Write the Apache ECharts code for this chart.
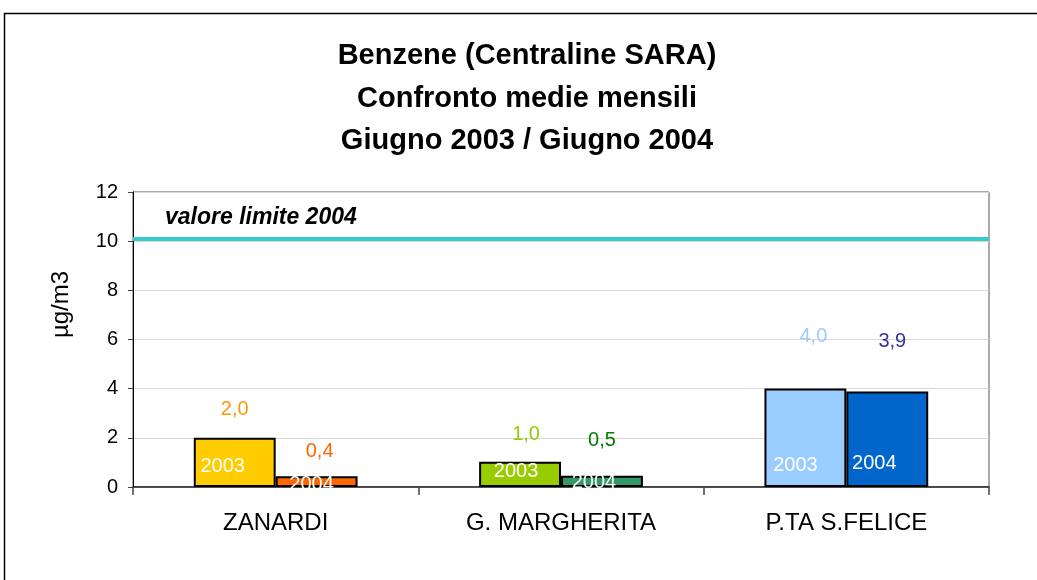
<!DOCTYPE html>
<html><head><meta charset="utf-8">
<script src="https://cdn.jsdelivr.net/npm/echarts@6/dist/echarts.min.js"></script>
<style>html,body{margin:0;padding:0;background:#fff}#c{width:1037px;height:580px}</style>
</head><body><div id="c"></div>
<script>
// ---- data ----
const categories = ['ZANARDI', 'G. MARGHERITA', 'P.TA S.FELICE'];
const years = ['2003', '2004'];
const values2003 = [2.0, 1.03, 4.01];
const values2004 = [0.44, 0.46, 3.88];
const limitValue = 10.1;
const limitLabel = 'valore limite 2004';
const yMin = 0, yMax = 12, yStep = 2;
const titleLines = ['Benzene (Centraline SARA)', 'Confronto medie mensili', 'Giugno 2003 / Giugno 2004'];
const yAxisName = 'µg/m3';

// ---- styles ----
const barColors = [['#FFCC00', '#99CC00', '#99CCFF'], ['#FF6600', '#339966', '#0066CC']];
const valueColors = [['#FF9900', '#99CC00', '#99CCFF'], ['#FF6600', '#008000', '#333399']];
const valueOffsets = [[[0, -28], [6, -27], [8, -52]], [[3, -25], [0, -35], [5, -50]]];
const yearOffsets = [[[-12, -21], [-4, -16], [-10, -22]], [[-5, -3], [-8, -5], [-13, -24]]];
const FONT = "'Liberation Sans', Arial, Helvetica, sans-serif";
const fmt = v => v.toFixed(1).replace('.', ',');

function mainSeries(k, values, withLimit) {
  const s = {
    type: 'bar', name: years[k], xAxisIndex: 0, yAxisIndex: 0,
    barGap: '0%', barCategoryGap: '42.6%', silent: true,
    data: values.map((v, i) => ({
      value: v,
      itemStyle: { color: barColors[k][i], borderColor: '#000', borderWidth: 2 },
      label: {
        show: true, position: ['50%', 0], align: 'center', verticalAlign: 'middle',
        offset: valueOffsets[k][i], color: valueColors[k][i], fontSize: 20, fontFamily: FONT,
        formatter: p => fmt(p.value)
      }
    }))
  };
  if (withLimit) {
    s.markLine = {
      silent: true, symbol: 'none', animation: false,
      data: [{ yAxis: limitValue }],
      lineStyle: { color: '#33CCCC', width: 4, type: 'solid' },
      label: {
        show: true, position: 'insideStartTop', distance: [32, 10],
        formatter: limitLabel, color: '#000', fontSize: 23, fontWeight: 'bold',
        fontStyle: 'italic', fontFamily: FONT
      }
    };
  }
  return s;
}
function yearSeries(k, values) {
  return {
    type: 'bar', name: years[k] + 'y', xAxisIndex: 1, yAxisIndex: 0,
    barGap: '0%', barCategoryGap: '42.6%', silent: true,
    data: values.map((v, i) => ({
      value: v,
      itemStyle: { color: 'rgba(0,0,0,0)' },
      label: {
        show: true, position: ['50%', '100%'], align: 'center', verticalAlign: 'middle',
        offset: yearOffsets[k][i], color: '#fff', fontSize: 20, fontFamily: FONT,
        formatter: years[k]
      }
    }))
  };
}

const chart = echarts.init(document.getElementById('c'));
chart.setOption({
  animation: false,
  backgroundColor: '#fff',
  textStyle: { fontFamily: FONT },
  title: {
    text: titleLines.join('\n'), left: 527, top: 35, padding: 0, textAlign: 'center',
    textStyle: { fontSize: 29, fontWeight: 'bold', color: '#000', lineHeight: 42.5, fontFamily: FONT }
  },
  graphic: [{
    type: 'rect', silent: true, z: -10,
    shape: { x: 4.5, y: 13.5, width: 1100, height: 700 },
    style: { fill: 'none', stroke: '#000', lineWidth: 1.5 }
  }],
  grid: { left: 133, right: 48, top: 192, bottom: 93, show: true, borderColor: '#555', borderWidth: 1, backgroundColor: 'rgba(0,0,0,0)' },
  xAxis: [{
    type: 'category', data: categories,
    axisLine: { lineStyle: { color: '#222', width: 1.5 } },
    axisTick: { show: true, length: 8, lineStyle: { color: '#444', width: 1.5 } },
    axisLabel: { color: '#000', fontSize: 24, margin: 24, fontFamily: FONT },
    splitLine: { show: false }
  }, {
    type: 'category', data: categories, show: false
  }],
  yAxis: {
    type: 'value', min: yMin, max: yMax, interval: yStep,
    name: yAxisName, nameLocation: 'middle', nameGap: 60,
    nameTextStyle: { color: '#000', fontSize: 24, fontFamily: FONT, padding: [0, 0, 0, 70] },
    axisLine: { show: true, lineStyle: { color: '#000', width: 1 } },
    axisTick: { show: true, length: 5, lineStyle: { color: '#444' } },
    axisLabel: { color: '#000', fontSize: 20, margin: 15, fontFamily: FONT },
    splitLine: { show: true, lineStyle: { color: '#D9D9D9', width: 1 } }
  },
  series: [
    mainSeries(0, values2003, true),
    mainSeries(1, values2004, false),
    yearSeries(0, values2003),
    yearSeries(1, values2004)
  ]
});
</script></body></html>
